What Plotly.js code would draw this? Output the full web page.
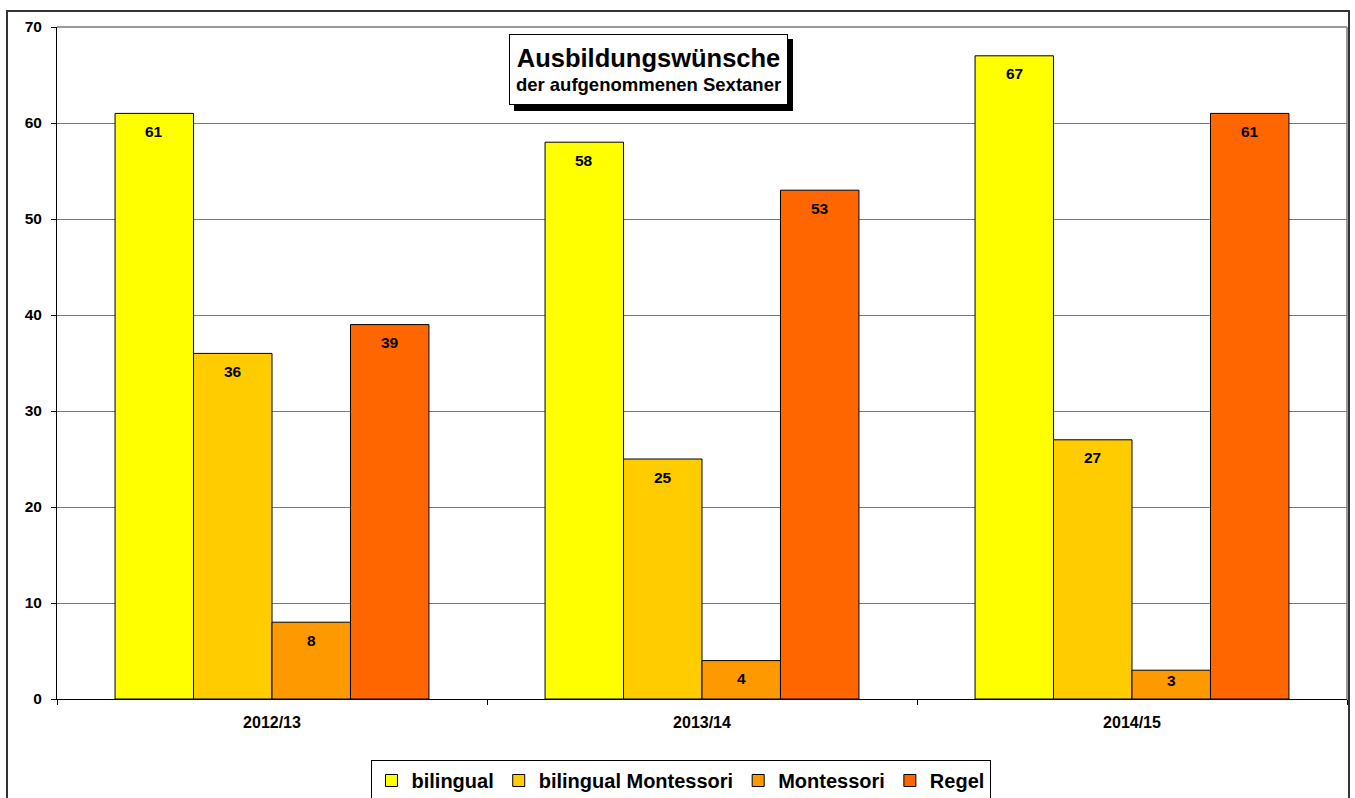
<!DOCTYPE html>
<html>
<head>
<meta charset="utf-8">
<script src="https://cdn.plot.ly/plotly-3.0.1.min.js"></script>
<style>
  html, body { margin: 0; padding: 0; background: #ffffff; }
  #chart { width: 1355px; height: 798px; }
</style>
</head>
<body>
<div id="chart"></div>
<script>
// School years on the x axis
const years = ['2012/13', '2013/14', '2014/15'];

// Requested class profiles of the admitted sixth-graders
const seriesNames = ['bilingual', 'bilingual Montessori', 'Montessori', 'Regel'];
const bilingual = [61, 58, 67];
const bilingualMontessori = [36, 25, 27];
const montessori = [8, 4, 3];
const regel = [39, 53, 61];

const seriesValues = [bilingual, bilingualMontessori, montessori, regel];
const seriesColors = ['#FFFF00', '#FFCC00', '#FF9900', '#FF6600'];

const FONT = 'Arial, "Liberation Sans", sans-serif';

// Geometry of the plotting area (pixels)
const W = 1355, H = 798;
const M = { l: 57, r: 8, t: 27, b: 99, autoexpand: false };
const plotW = W - M.l - M.r;
const plotH = H - M.t - M.b;
const yMax = 70;
const bargap = 0.27;

const px2xp = px => (px - M.l) / plotW;
const py2yp = py => (H - M.b - py) / plotH;

const traces = seriesNames.map((name, i) => ({
  type: 'bar',
  name: name,
  x: years,
  y: seriesValues[i],
  marker: { color: seriesColors[i], line: { color: '#000000', width: 1 } },
  hoverinfo: 'x+y+name'
}));

// Value labels placed just under the top of each bar
const catW = plotW / years.length;
const barW = catW * (1 - bargap) / seriesNames.length;
const pxPerUnit = plotH / yMax;
const annotations = [];
seriesValues.forEach((vals, i) => {
  vals.forEach((v, j) => {
    const hpx = v * pxPerUnit;
    annotations.push({
      x: years[j], y: v, xref: 'x', yref: 'y',
      xshift: (i - (seriesNames.length - 1) / 2) * barW,
      yshift: -Math.min(18, hpx - 19),
      yanchor: 'middle', xanchor: 'center',
      showarrow: false,
      text: '<b>' + v + '</b>',
      font: { family: FONT, size: 15.5, color: '#000000' }
    });
  });
});

// Title box with drop shadow
const tb = { x0: 509, x1: 788, y0: 34, y1: 105 };
annotations.push({
  xref: 'paper', yref: 'paper',
  x: px2xp((tb.x0 + tb.x1) / 2), y: py2yp((tb.y0 + tb.y1) / 2),
  xanchor: 'center', yanchor: 'middle',
  width: tb.x1 - tb.x0 - 2, height: tb.y1 - tb.y0 - 2,
  showarrow: false,
  bgcolor: '#ffffff', bordercolor: '#000000', borderwidth: 1, borderpad: 0,
  text: '<b><span style="font-size:25.5px">Ausbildungswünsche</span></b><br><b><span style="font-size:18.5px">der aufgenommenen Sextaner</span></b>',
  font: { family: FONT, size: 18.5, color: '#000000' }
});

const shapes = [
  // shadow of the title box
  { type: 'rect', xref: 'paper', yref: 'paper', layer: 'above',
    x0: px2xp(tb.x0 + 5), x1: px2xp(tb.x1 + 5), y0: py2yp(tb.y1 + 6), y1: py2yp(tb.y0 + 5),
    fillcolor: '#000000', line: { width: 0 } },
  // top and right edges of the plotting area
  { type: 'line', xref: 'paper', yref: 'paper', x0: 0, x1: 1, y0: 1, y1: 1,
    line: { color: '#9a9a9a', width: 2 }, layer: 'below' },
  { type: 'line', xref: 'paper', yref: 'paper', x0: 1, x1: 1, y0: py2yp(700), y1: 1,
    line: { color: '#9a9a9a', width: 2 }, layer: 'below' },
  // outer chart frame
  { type: 'rect', xref: 'paper', yref: 'paper', layer: 'below',
    x0: px2xp(7), x1: px2xp(1349), y0: py2yp(830), y1: py2yp(11),
    line: { color: '#333333', width: 2 }, fillcolor: 'rgba(0,0,0,0)' }
];

const layout = {
  width: W, height: H,
  margin: M,
  paper_bgcolor: '#ffffff', plot_bgcolor: '#ffffff',
  font: { family: FONT, color: '#000000' },
  barmode: 'group',
  bargap: bargap,
  bargroupgap: 0,
  showlegend: true,
  legend: {
    orientation: 'h',
    x: px2xp(680.5), y: py2yp(760), xanchor: 'center', yanchor: 'top',
    bordercolor: '#000000', borderwidth: 1, bgcolor: '#ffffff',
    font: { family: FONT, size: 20, color: '#000000', weight: 'bold' },
    itemwidth: 30, tracegroupgap: 0
  },
  xaxis: {
    type: 'category',
    showgrid: false,
    showline: true, linecolor: '#000000', linewidth: 1,
    ticks: 'outside', tickson: 'boundaries', ticklen: 5, tickcolor: '#000000',
    tickfont: { family: FONT, size: 16, color: '#000000', weight: 'bold' },
    ticklabelstandoff: 9,
    zeroline: false
  },
  yaxis: {
    range: [0, yMax],
    dtick: 10,
    showgrid: true, gridcolor: '#777777', gridwidth: 1,
    showline: true, linecolor: '#000000', linewidth: 1,
    ticks: 'outside', ticklen: 5, tickcolor: '#000000',
    tickfont: { family: FONT, size: 15.5, color: '#000000', weight: 'bold' },
    ticklabelstandoff: 6,
    zeroline: false
  },
  annotations: annotations,
  shapes: shapes
};

Plotly.newPlot('chart', traces, layout, { displayModeBar: false, staticPlot: true });
</script>
</body>
</html>
